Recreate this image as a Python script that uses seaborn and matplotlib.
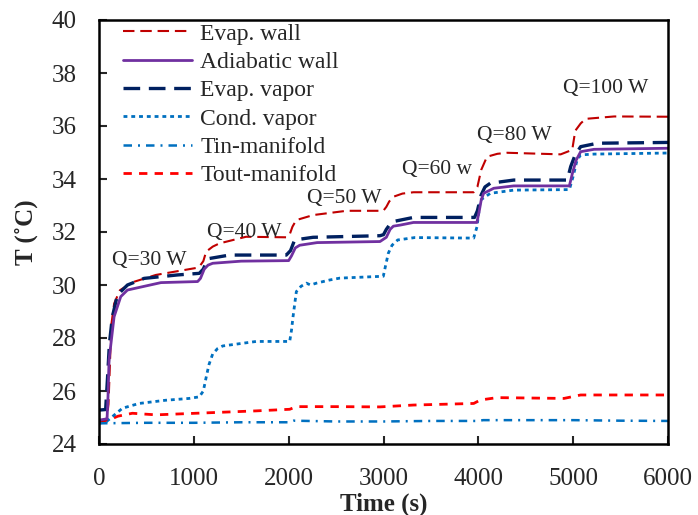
import numpy as np
import pandas as pd
import matplotlib
matplotlib.use("Agg")
import matplotlib.pyplot as plt
import seaborn as sns

# ---- data ----
evap_wall_t = [0, 80, 100, 115, 130, 160, 220, 350, 600, 1020, 1060, 1100, 1130, 1200, 1270, 1550, 1975,
               2010, 2040, 2080, 2260, 2610, 2998, 3030, 3060, 3104, 3200, 3316, 3950, 3990, 4030, 4091,
               4200, 4303, 4868, 4990, 5022, 5080, 5132, 5432, 6000]
evap_wall_T = [24.85, 24.9, 25.5, 27.0, 28.5, 29.3, 29.8, 30.1, 30.38, 30.64, 30.7, 30.9, 31.26, 31.45, 31.57,
               31.82, 31.8, 31.9, 32.2, 32.45, 32.64, 32.8, 32.8, 32.95, 33.15, 33.33, 33.45, 33.5, 33.5, 33.7,
               34.34, 34.84, 34.95, 34.99, 34.93, 35.1, 35.82, 36.1, 36.27, 36.36, 36.35]

adiab_t = [0, 85, 95, 106, 159, 229, 300, 653, 1040, 1070, 1110, 1150, 1199, 1500, 2000, 2030, 2070, 2116,
           2300, 2963, 3030, 3070, 3104, 3175, 3316, 3985, 4010, 4030, 4056, 4162, 4374, 4960, 4991, 5030,
           5079, 5220, 6000]
adiab_T = [24.9, 24.95, 25.8, 27.17, 28.8, 29.56, 29.81, 30.09, 30.13, 30.25, 30.6, 30.75, 30.82, 30.9, 30.92,
           31.1, 31.4, 31.5, 31.6, 31.64, 31.8, 32.1, 32.22, 32.26, 32.36, 32.36, 32.8, 33.2, 33.46, 33.65,
           33.74, 33.74, 34.2, 34.7, 35.03, 35.12, 35.16]

evap_vap_t = [0, 70, 90, 110, 141, 194, 300, 476, 829, 1058, 1100, 1130, 1164, 1376, 1975, 2020, 2063, 2257,
              2963, 3000, 3030, 3070, 3110, 3316, 3960, 3990, 4030, 4070, 4126, 4374, 4938, 4974, 5020, 5079,
              5256, 6000]
evap_vap_T = [25.28, 25.3, 26.5, 27.8, 28.8, 29.62, 30.0, 30.25, 30.38, 30.44, 30.6, 30.85, 31.0, 31.13, 31.13,
              31.3, 31.7, 31.8, 31.86, 31.9, 32.1, 32.3, 32.4, 32.55, 32.55, 32.8, 33.4, 33.7, 33.84, 33.96,
              33.96, 34.47, 34.9, 35.22, 35.35, 35.38]

cond_vap_t = [0, 80, 247, 423, 700, 952, 1058, 1100, 1129, 1160, 1199, 1250, 1305, 1658, 2011, 2030, 2046,
              2081, 2130, 2187, 2230, 2293, 2434, 2540, 2998, 3020, 3051, 3090, 3150, 3330, 3951, 3986, 4021,
              4126, 4374, 4960, 5000, 5040, 5079, 5220, 6000]
cond_vap_T = [24.78, 24.85, 25.35, 25.53, 25.65, 25.72, 25.78, 26.0, 26.5, 27.0, 27.4, 27.6, 27.7, 27.87,
              27.87, 28.3, 28.8, 29.75, 29.95, 30.07, 30.0, 30.07, 30.19, 30.26, 30.33, 30.7, 31.2, 31.5, 31.7,
              31.79, 31.77, 32.2, 33.2, 33.46, 33.58, 33.6, 34.1, 34.7, 34.91, 34.94, 34.98]

tin_t = [0, 500, 1000, 1500, 2000, 2050, 2500, 3000, 3500, 4000, 4050, 4500, 5000, 5500, 6000]
tin_T = [24.78, 24.8, 24.8, 24.82, 24.82, 24.88, 24.85, 24.85, 24.87, 24.87, 24.9, 24.9, 24.9, 24.88, 24.87]

tout_t = [0, 100, 200, 352, 600, 1023, 1658, 2011, 2081, 2500, 2963, 3316, 3951, 4021, 4197, 4903, 5079, 6000]
tout_T = [24.85, 24.9, 25.05, 25.16, 25.1, 25.16, 25.25, 25.31, 25.41, 25.41, 25.4, 25.47, 25.53, 25.66,
          25.75, 25.72, 25.85, 25.85]

series_names = ["Evap. wall", "Adiabatic wall", "Evap. vapor", "Cond. vapor", "Tin-manifold", "Tout-manifold"]

ann_labels = ["Q=30 W", "Q=40 W", "Q=50 W", "Q=60 w", "Q=80 W", "Q=100 W"]
ann_t = [138, 1143, 2190, 3196, 3989, 4889]
ann_T = [30.92, 31.98, 33.26, 34.35, 35.64, 37.42]

x_ticks = [0, 1000, 2000, 3000, 4000, 5000, 6000]
y_ticks = [24, 26, 28, 30, 32, 34, 36, 38, 40]

# ---- styling ----
sns.set_theme(style="ticks")
plt.rcParams["font.family"] = ["Liberation Serif", "DejaVu Serif"]

styles = {
    "Evap. wall":     dict(color="#C00000", lw=1.5, ls=(0, (5.5, 2.8))),
    "Adiabatic wall": dict(color="#7030A0", lw=2.0, ls="-"),
    "Evap. vapor":    dict(color="#002060", lw=2.4, ls=(0, (5.0, 2.6))),
    "Cond. vapor":    dict(color="#0070C0", lw=2.0, ls=(0, (1.4, 1.4))),
    "Tin-manifold":   dict(color="#0070C0", lw=1.8, ls=(0, (3.4, 2.4, 0.8, 2.4))),
    "Tout-manifold":  dict(color="#FF0000", lw=2.0, ls=(0, (3.0, 2.6))),
}

data = {
    "Evap. wall": (evap_wall_t, evap_wall_T),
    "Adiabatic wall": (adiab_t, adiab_T),
    "Evap. vapor": (evap_vap_t, evap_vap_T),
    "Cond. vapor": (cond_vap_t, cond_vap_T),
    "Tin-manifold": (tin_t, tin_T),
    "Tout-manifold": (tout_t, tout_T),
}

fig = plt.figure(figsize=(6.98, 5.15), dpi=100)
ax = fig.add_axes([99 / 698, 1 - 444 / 515, 569 / 698, 424 / 515])

draw_order = ["Tout-manifold", "Tin-manifold", "Cond. vapor", "Evap. wall", "Evap. vapor", "Adiabatic wall"]
handles = {}
for name in draw_order:
    t, T = data[name]
    df = pd.DataFrame({"t": t, "T": T})
    st = styles[name]
    sns.lineplot(data=df, x="t", y="T", ax=ax, color=st["color"], linewidth=st["lw"],
                 linestyle=st["ls"], sort=False, estimator=None, label=name)
    handles[name] = ax.get_lines()[-1]

ax.set_xlim(0, 6000)
ax.set_ylim(24, 40)
ax.set_xticks(x_ticks)
ax.set_yticks(y_ticks)
ax.tick_params(direction="in", length=6, width=1.5, labelsize=18)
ax.tick_params(axis="x", pad=17)
ax.tick_params(axis="y", pad=16)
for sp in ax.spines.values():
    sp.set_linewidth(1.8)
    sp.set_color("black")

ax.set_xlabel("Time (s)", fontsize=18, fontweight="bold", labelpad=2)
ax.set_ylabel("T (˚C)", fontsize=18, fontweight="bold", labelpad=10)

for lab, tx, ty in zip(ann_labels, ann_t, ann_T):
    ax.text(tx, ty, lab, fontsize=15.5, ha="left", va="center")

leg = ax.legend([handles[n] for n in series_names], series_names, loc="upper left",
                frameon=False, fontsize=17, handlelength=2.95, handletextpad=0.33,
                labelspacing=0.29, borderaxespad=0.0, bbox_to_anchor=(0.025, 1.015))

fig.savefig("out.png", dpi=100)
